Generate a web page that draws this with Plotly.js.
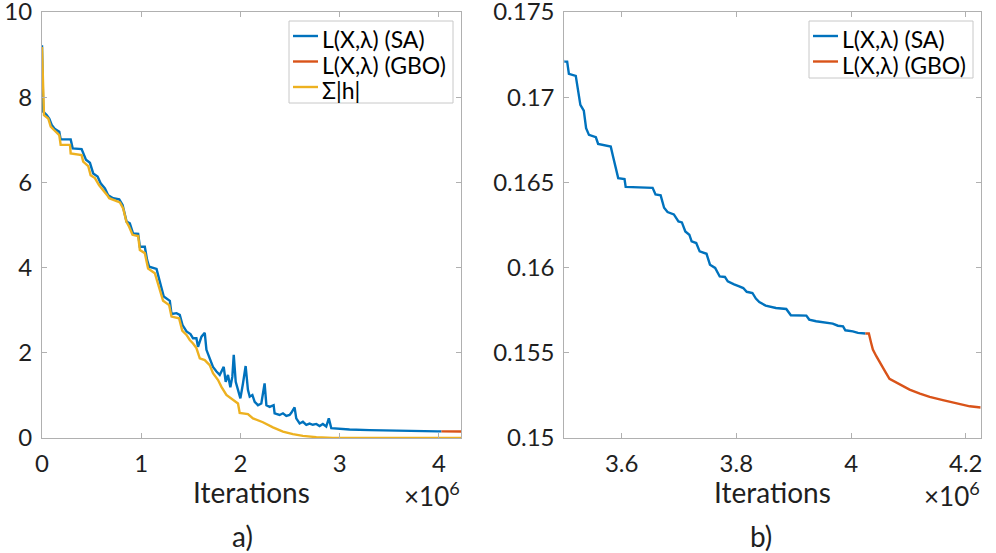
<!DOCTYPE html>
<html>
<head>
<meta charset="utf-8">
<script src="https://cdn.plot.ly/plotly-3.0.1.min.js"></script>
<style>
  html, body { margin: 0; padding: 0; background: #fff; }
  #chart { width: 996px; height: 553px; }
</style>
</head>
<body>
<div id="chart"></div>
<script>
// Iterations are stored in units of 10^6 (the axes carry a ×10^6 multiplier).

// Simulated annealing: augmented Lagrangian L(X, λ)
const saIter = [0, 0.013, 0.047, 0.073, 0.098, 0.131, 0.174, 0.188, 0.289, 0.309, 0.399, 0.426, 0.443, 0.483,
  0.516, 0.560, 0.591, 0.634, 0.667, 0.717, 0.778, 0.812, 0.852, 0.885, 0.918, 0.969, 0.986, 1.036, 1.059,
  1.080, 1.154, 1.187, 1.214, 1.227, 1.288, 1.305, 1.355, 1.388, 1.416, 1.456, 1.496, 1.522, 1.556, 1.572,
  1.607, 1.640, 1.657, 1.690, 1.723, 1.758, 1.791, 1.831, 1.851, 1.874, 1.898, 1.918, 1.932, 1.952, 1.975,
  1.999, 2.025, 2.052, 2.075, 2.093, 2.120, 2.143, 2.176, 2.210, 2.243, 2.261, 2.294, 2.334, 2.344, 2.394,
  2.428, 2.462, 2.495, 2.512, 2.545, 2.562, 2.596, 2.629, 2.663, 2.696, 2.729, 2.764, 2.797, 2.830, 2.864,
  2.890, 2.915, 3.099, 3.300,
  3.499, 3.505, 3.508, 3.520, 3.525, 3.528, 3.534, 3.538, 3.543, 3.555, 3.559, 3.569, 3.581, 3.585, 3.590,
  3.594, 3.605, 3.607, 3.654, 3.659, 3.668, 3.674, 3.680, 3.691, 3.699, 3.705, 3.711, 3.718, 3.722, 3.730,
  3.736, 3.741, 3.748, 3.754, 3.763, 3.771, 3.780, 3.785, 3.791, 3.796, 3.805, 3.812, 3.818, 3.828, 3.834,
  3.840, 3.851, 3.869, 3.887, 3.895, 3.922, 3.927, 3.939, 3.957, 3.968, 3.977, 3.986, 3.990, 4.003, 4.012,
  4.025];
const saLoss = [9.22, 7.66, 7.58, 7.50, 7.35, 7.25, 7.19, 7.01, 7.01, 6.80, 6.78, 6.64, 6.53, 6.46,
  6.21, 6.14, 5.98, 5.86, 5.70, 5.63, 5.60, 5.47, 5.08, 5.04, 4.80, 4.79, 4.49, 4.49, 4.18,
  4.02, 3.97, 3.67, 3.47, 3.32, 3.22, 2.91, 2.93, 2.89, 2.65, 2.50, 2.44, 2.34, 2.34, 2.14,
  2.38, 2.47, 2.07, 1.87, 1.67, 1.56, 1.48, 1.67, 1.32, 1.48, 1.19, 1.44, 1.95, 1.32, 1.13,
  0.93, 1.28, 1.69, 1.13, 0.97, 1.01, 0.85, 0.77, 0.81, 1.28, 0.77, 0.73, 0.77, 0.58, 0.54,
  0.58, 0.52, 0.54, 0.59, 0.72, 0.46, 0.34, 0.38, 0.31, 0.34, 0.31, 0.33, 0.28, 0.33, 0.27,
  0.46, 0.23, 0.20, 0.185,
  0.17209, 0.17209, 0.17137, 0.17125, 0.17023, 0.16955, 0.16921, 0.16818, 0.16779, 0.16765, 0.16726, 0.16720, 0.16710, 0.16652, 0.16584,
  0.16525, 0.16519, 0.16474, 0.16468, 0.16429, 0.16424, 0.16351, 0.16326, 0.16312, 0.16271, 0.16265, 0.16212, 0.16193, 0.16154, 0.16144,
  0.16095, 0.16090, 0.16081, 0.16017, 0.15998, 0.15948, 0.15945, 0.15919, 0.15912, 0.15902, 0.15890, 0.15880, 0.15858, 0.15851, 0.15818,
  0.15798, 0.15777, 0.15763, 0.15757, 0.15720, 0.15718, 0.15695, 0.15685, 0.15679, 0.15671, 0.15659, 0.15655, 0.15632, 0.15626, 0.15617,
  0.15613];

// Gradient-based optimisation continuing from the SA result
const gboIter = [4.025, 4.031, 4.035, 4.038, 4.044, 4.050, 4.059, 4.067, 4.079, 4.091, 4.102, 4.120, 4.137, 4.160, 4.184, 4.207, 4.226];
const gboLoss = [0.15613, 0.15613, 0.15558, 0.15519, 0.15480, 0.15441, 0.15392, 0.15347, 0.15324, 0.15300, 0.15284, 0.15261, 0.15241, 0.15222, 0.15202, 0.15186, 0.15179];

// Total constraint violation Σ|h|
const hIter = [0, 0.020, 0.063, 0.088, 0.121, 0.174, 0.188, 0.282, 0.289, 0.399, 0.415, 0.466, 0.490, 0.533,
  0.576, 0.617, 0.657, 0.677, 0.734, 0.785, 0.818, 0.850, 0.878, 0.912, 0.969, 0.986, 1.036, 1.069, 1.137,
  1.187, 1.220, 1.281, 1.305, 1.381, 1.413, 1.456, 1.489, 1.522, 1.556, 1.590, 1.640, 1.690, 1.723, 1.774,
  1.808, 1.858, 1.925, 1.975, 1.992, 2.075, 2.126, 2.226, 2.327, 2.428, 2.528, 2.629, 2.764, 2.931, 4.226];
const hSum = [9.18, 7.58, 7.50, 7.31, 7.23, 7.11, 6.88, 6.88, 6.68, 6.64, 6.49, 6.38, 6.17, 6.10,
  5.93, 5.82, 5.70, 5.63, 5.57, 5.53, 5.39, 5.08, 4.96, 4.77, 4.74, 4.41, 4.34, 3.98, 3.87,
  3.51, 3.22, 3.12, 2.85, 2.81, 2.52, 2.42, 2.30, 2.22, 2.11, 1.87, 1.83, 1.71, 1.52, 1.36,
  1.20, 1.01, 0.89, 0.81, 0.59, 0.56, 0.46, 0.37, 0.25, 0.15, 0.09, 0.05, 0.02, 0.0, 0.0];

// Tick labels
const leftXTicks = [0, 1, 2, 3, 4];
const leftYTicks = [0, 2, 4, 6, 8, 10];
const rightXTicks = [3.6, 3.8, 4, 4.2];
const rightYTicks = [0.15, 0.155, 0.16, 0.165, 0.17, 0.175];

const names = { sa: 'L(X,λ) (SA)', gbo: 'L(X,λ) (GBO)', h: 'Σ|h|' };
const colors = { sa: '#0072BD', gbo: '#D95319', h: '#EDB120' };
const LW = 2.4;
const FONT = 'Lato, "Open Sans", sans-serif';
const TXT = '#1f1f1f';
const W = 996, H = 553;
const px = v => v / W;          // horizontal pixel -> paper fraction
const py = v => (H - v) / H;    // vertical pixel (from top) -> paper fraction

const traces = [
  { x: saIter, y: saLoss, name: names.sa, mode: 'lines', line: { color: colors.sa, width: LW }, xaxis: 'x', yaxis: 'y' },
  { x: gboIter, y: gboLoss, name: names.gbo, mode: 'lines', line: { color: colors.gbo, width: LW }, xaxis: 'x', yaxis: 'y' },
  { x: hIter, y: hSum, name: names.h, mode: 'lines', line: { color: colors.h, width: LW }, xaxis: 'x', yaxis: 'y' },
  { x: saIter, y: saLoss, name: names.sa, mode: 'lines', line: { color: colors.sa, width: LW }, xaxis: 'x2', yaxis: 'y2' },
  { x: gboIter, y: gboLoss, name: names.gbo, mode: 'lines', line: { color: colors.gbo, width: LW }, xaxis: 'x2', yaxis: 'y2' }
];

const axisBase = {
  showline: true, linecolor: '#b0b0b0', linewidth: 1, mirror: 'ticks',
  ticks: 'inside', ticklen: 5, tickcolor: '#b0b0b0', tickwidth: 1,
  showgrid: false, zeroline: false, automargin: false,
  ticklabeloverflow: 'allow',
  tickfont: { family: FONT, size: 24, color: TXT }
};

const yDom = [py(438), py(12)];

// Boxed legends, one per panel: [box left, box top, box bottom, entries]
const legends = [
  { x0: 289, x1: 453, y0: 21, y1: 103, keys: ['sa', 'gbo', 'h'] },
  { x0: 809, x1: 973, y0: 21, y1: 78, keys: ['sa', 'gbo'] }
];
const rowStep = 25.5;
const shapes = [];
const annotations = [];
legends.forEach(lg => {
  shapes.push({ type: 'rect', xref: 'paper', yref: 'paper', x0: px(lg.x0), x1: px(lg.x1), y0: py(lg.y1), y1: py(lg.y0),
    line: { color: '#c8c8c8', width: 1 }, fillcolor: '#ffffff', layer: 'above' });
  lg.keys.forEach((k, i) => {
    const yc = lg.y0 + 15 + i * rowStep;
    shapes.push({ type: 'line', xref: 'paper', yref: 'paper', x0: px(lg.x0 + 4), x1: px(lg.x0 + 29), y0: py(yc), y1: py(yc),
      line: { color: colors[k], width: LW }, layer: 'above' });
    annotations.push({ text: names[k], xref: 'paper', yref: 'paper', x: px(lg.x0 + 31), y: py(yc + 3), xanchor: 'left', yanchor: 'middle',
      showarrow: false, font: { family: FONT, size: 23, color: '#000000' } });
  });
});

const labelFont = { family: FONT, size: 28, color: TXT };
annotations.push(
  { text: 'Iterations', xref: 'paper', yref: 'paper', x: px(252), y: py(492), xanchor: 'center', yanchor: 'middle', showarrow: false, font: labelFont },
  { text: 'Iterations', xref: 'paper', yref: 'paper', x: px(772), y: py(492), xanchor: 'center', yanchor: 'middle', showarrow: false, font: labelFont },
  { text: '×10<sup>6</sup>', xref: 'paper', yref: 'paper', x: px(462), y: py(494), xanchor: 'right', yanchor: 'middle', showarrow: false, font: { family: FONT, size: 26, color: TXT } },
  { text: '×10<sup>6</sup>', xref: 'paper', yref: 'paper', x: px(982), y: py(494), xanchor: 'right', yanchor: 'middle', showarrow: false, font: { family: FONT, size: 26, color: TXT } },
  { text: 'a)', xref: 'paper', yref: 'paper', x: px(242), y: py(536), xanchor: 'center', yanchor: 'middle', showarrow: false, font: labelFont },
  { text: 'b)', xref: 'paper', yref: 'paper', x: px(761), y: py(536), xanchor: 'center', yanchor: 'middle', showarrow: false, font: labelFont }
);

const layout = {
  width: W, height: H,
  margin: { l: 0, r: 0, t: 0, b: 0 },
  paper_bgcolor: '#ffffff', plot_bgcolor: '#ffffff',
  font: { family: FONT, color: TXT },
  showlegend: false,
  xaxis: Object.assign({}, axisBase, { domain: [px(42), px(461)], range: [0, 4.222], tickvals: leftXTicks, ticktext: leftXTicks.map(String), anchor: 'y', ticklabelstandoff: 4 }),
  yaxis: Object.assign({}, axisBase, { domain: yDom, range: [0, 10], tickvals: leftYTicks, ticktext: leftYTicks.map(String), anchor: 'x', ticklabelstandoff: 4 }),
  xaxis2: Object.assign({}, axisBase, { domain: [px(564.3), px(980.7)], range: [3.5, 4.226], tickvals: rightXTicks, ticktext: rightXTicks.map(String), anchor: 'y2', ticklabelstandoff: 4 }),
  yaxis2: Object.assign({}, axisBase, { domain: yDom, range: [0.15, 0.175], tickvals: rightYTicks, ticktext: rightYTicks.map(String), anchor: 'x2', ticklabelstandoff: 4 }),
  shapes: shapes,
  annotations: annotations
};

Plotly.newPlot('chart', traces, layout, { displayModeBar: false, staticPlot: true });
</script>
</body>
</html>
